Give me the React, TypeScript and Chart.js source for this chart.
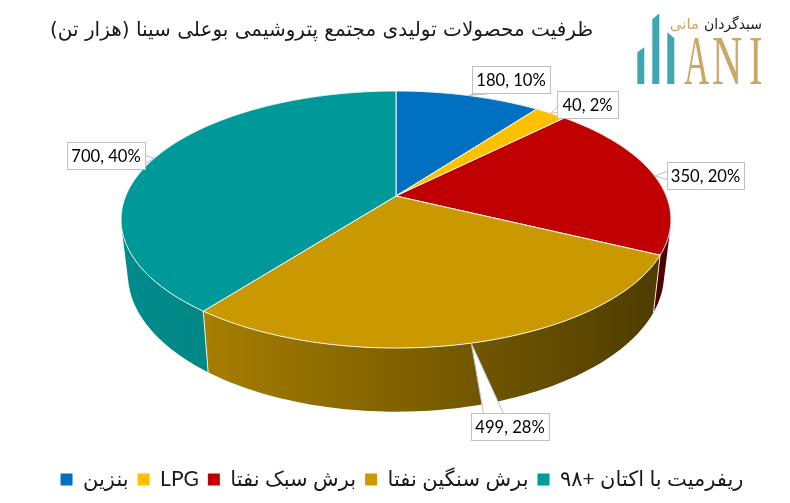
import React, { useEffect, useRef } from "react";
import { Chart, registerables } from "chart.js";

Chart.register(...registerables);

const categories = ["بنزین", "LPG", "برش سبک نفتا", "برش سنگین نفتا", "ریفرمیت با اکتان +۹۸"];
const capacity = [180, 40, 350, 499, 700];
const percentLabels = ["10%", "2%", "20%", "28%", "40%"];
const topColors = ["#0070C0", "#FFC000", "#C00000", "#CA9900", "#009999"];
const wallLight = ["#004a80", "#a07800", "#640000", "#A67E00", "#008C8B"];
const wallDark = ["#00355c", "#806000", "#4e0000", "#4E3C00", "#007C7B"];
const titleText = "ظرفیت محصولات تولیدی مجتمع پتروشیمی بوعلی سینا (هزار تن)";

// label boxes: left, top, width, height
const labelBoxes = [
  [472, 66, 78, 27],
  [557, 91, 61, 27],
  [667, 162, 77, 27],
  [471, 413, 78, 27],
  [67, 142, 78, 27],
];
// where the callout leaves its box: two base points
const calloutBases = [
  [[476, 93], [490, 93]],
  [[557, 106], [557, 112]],
  [[667, 171], [667, 179]],
  [[483, 413], [503, 413]],
  [[145, 155], [145, 163]],
];

const CX = 396, CY = 196, A = 270.3, B = 124.2, K = 0.183;
const WALL_SX = 0.975, WALL_SY = 1.07, WALL_Y0 = 249;

const topPt = (a: number) => {
  const u = Math.cos(a), v = Math.sin(a), w = 1 - K * v;
  return [CX + (A * u) / w, CY + (B * v) / w];
};
const bottomPt = (a: number) => {
  const [x, y] = topPt(a);
  return [CX + WALL_SX * (x - CX), WALL_Y0 + WALL_SY * (y - CY)];
};
const arcAngles = (s: number, e: number) => {
  const n = Math.max(2, Math.ceil((e - s) / 0.02));
  const out: number[] = [];
  for (let i = 0; i <= n; i++) out.push(s + ((e - s) * i) / n);
  return out;
};
const signedArea = (pts: number[][]) => {
  let t = 0;
  pts.forEach((p, i) => {
    const q = pts[(i + 1) % pts.length];
    t += p[0] * q[1] - q[0] * p[1];
  });
  return t;
};

const pie3d = {
  id: "pie3d",
  beforeDatasetsDraw(chart: any) {
    const ctx: CanvasRenderingContext2D = chart.ctx;
    const arcs = chart.getDatasetMeta(0).data;
    ctx.save();
    // side walls: one path of same-wound strips between the two rims, filled once
    [0, 1, 2, 4, 3].forEach((i) => {
      const { startAngle: s, endAngle: e } = arcs[i];
      const angles = arcAngles(s, e);
      const xs = angles.map((a) => topPt(a)[0]);
      const g = ctx.createLinearGradient(Math.min(...xs), 0, Math.max(...xs), 0);
      g.addColorStop(0, wallLight[i]);
      g.addColorStop(1, wallDark[i]);
      ctx.fillStyle = g;
      ctx.beginPath();
      for (let k = 0; k < angles.length - 1; k++) {
        let quad = [topPt(angles[k]), topPt(angles[k + 1]), bottomPt(angles[k + 1]), bottomPt(angles[k])];
        if (signedArea(quad) < 0) quad = quad.reverse();
        quad.forEach((p, j) => (j ? ctx.lineTo(p[0], p[1]) : ctx.moveTo(p[0], p[1])));
        ctx.closePath();
      }
      ctx.fill();
    });
    // seams on the front wall
    [2, 3].forEach((i) => {
      const e = arcs[i].endAngle;
      const p = topPt(e), q = bottomPt(e);
      ctx.beginPath();
      ctx.moveTo(p[0], p[1]);
      ctx.lineTo(q[0], q[1]);
      ctx.strokeStyle = "rgba(255,255,255,0.85)";
      ctx.lineWidth = 1;
      ctx.stroke();
    });
    // top faces
    arcs.forEach((el: any, i: number) => {
      ctx.beginPath();
      ctx.moveTo(CX, CY);
      arcAngles(el.startAngle, el.endAngle).forEach((a) => {
        const p = topPt(a);
        ctx.lineTo(p[0], p[1]);
      });
      ctx.closePath();
      ctx.fillStyle = topColors[i];
      ctx.fill();
      ctx.strokeStyle = "rgba(255,255,255,0.9)";
      ctx.lineWidth = 1;
      ctx.stroke();
    });
    ctx.restore();
    return false;
  },
  afterDraw(chart: any) {
    const ctx: CanvasRenderingContext2D = chart.ctx;
    const arcs = chart.getDatasetMeta(0).data;
    ctx.save();
    ctx.direction = "ltr";
    // callouts and data labels
    arcs.forEach((el: any, i: number) => {
      const apex = topPt((el.startAngle + el.endAngle) / 2);
      const [b1, b2] = calloutBases[i];
      const [x, y, w, h] = labelBoxes[i];
      ctx.fillStyle = "#ffffff";
      ctx.strokeStyle = "#bfbfbf";
      ctx.lineWidth = 1;
      ctx.beginPath();
      ctx.moveTo(b1[0] + 0.5, b1[1] + 0.5);
      ctx.lineTo(apex[0], apex[1]);
      ctx.lineTo(b2[0] + 0.5, b2[1] + 0.5);
      ctx.closePath();
      ctx.fill();
      ctx.beginPath();
      ctx.moveTo(b1[0] + 0.5, b1[1] + 0.5);
      ctx.lineTo(apex[0], apex[1]);
      ctx.lineTo(b2[0] + 0.5, b2[1] + 0.5);
      ctx.stroke();
      ctx.fillRect(x, y, w, h);
      ctx.strokeRect(x + 0.5, y + 0.5, w, h);
      ctx.fillStyle = "#000000";
      ctx.font = "16.6px Lato";
      ctx.textAlign = "center";
      ctx.textBaseline = "middle";
      ctx.fillText(`${capacity[i]}, ${percentLabels[i]}`, x + w / 2, y + h / 2 + 1);
    });
    // logo
    const bars = [
      [637.3, 644.3, 52.3, 47.3],
      [652.3, 659.3, 19.3, 13.3],
      [667.3, 674.3, 32.3, 38.3],
    ];
    ctx.fillStyle = "#3FA6B2";
    bars.forEach(([l, r, yl, yr]) => {
      ctx.beginPath();
      ctx.moveTo(l, 84);
      ctx.lineTo(l, yl);
      ctx.lineTo(r, yr);
      ctx.lineTo(r, 84);
      ctx.closePath();
      ctx.fill();
    });
    ctx.fillStyle = "#CBA767";
    ctx.textBaseline = "alphabetic";
    ctx.textAlign = "left";
    ctx.font = "70px 'Liberation Serif'";
    [["A", 684, 0.5], ["N", 712, 0.6], ["I", 749, 0.58]].forEach(([t, x, sx]: any) => {
      ctx.save();
      ctx.translate(x, 84);
      ctx.scale(sx, 1);
      ctx.fillText(t, 0, 0);
      ctx.restore();
    });
    ctx.direction = "rtl";
    ctx.font = "15px 'DejaVu Sans'";
    ctx.textAlign = "right";
    ctx.fillStyle = "#222222";
    ctx.fillText("سبدگردان", 762, 29, 58);
    ctx.fillStyle = "#CBA767";
    ctx.fillText("مانی", 699, 29, 32);
    ctx.restore();
  },
};

export default function App() {
  const ref = useRef<HTMLCanvasElement>(null);
  useEffect(() => {
    const chart = new Chart(ref.current as HTMLCanvasElement, {
      type: "pie",
      data: {
        labels: categories,
        datasets: [{ data: capacity, backgroundColor: topColors, borderWidth: 0 }],
      },
      options: {
        animation: false,
        responsive: false,
        layout: { padding: { left: 50, right: 36, top: 8, bottom: 3 } },
        plugins: {
          tooltip: { enabled: false },
          title: {
            display: true,
            text: titleText,
            align: "start",
            color: "#1a1a1a",
            font: { family: "'DejaVu Sans'", size: 20, weight: "normal" },
            padding: { top: 11, bottom: 10 },
          },
          legend: {
            position: "bottom",
            labels: {
              boxWidth: 12,
              boxHeight: 12,
              padding: 9,
              color: "#1a1a1a",
              font: { family: "Lato, 'DejaVu Sans'", size: 21 },
            },
          },
        },
      },
      plugins: [pie3d],
    } as any);
    return () => chart.destroy();
  }, []);
  return (
    <div style={{ position: "absolute", left: 0, top: 0, width: 790, height: 503, background: "#fff" }}>
      <canvas ref={ref} width={790} height={503} dir="rtl" style={{ direction: "rtl" }} />
    </div>
  );
}
